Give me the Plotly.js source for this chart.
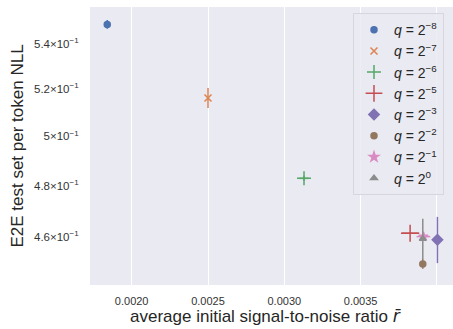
<!DOCTYPE html>
<html>
<head>
<meta charset="utf-8">
<script src="https://cdn.plot.ly/plotly-3.0.1.min.js"></script>
<style>html,body{margin:0;padding:0;background:#fff;}#chart{width:453px;height:329px;}</style>
</head>
<body>
<div id="chart"></div>
<script>
const names = ["q = 2^-8","q = 2^-7","q = 2^-6","q = 2^-5","q = 2^-3","q = 2^-2","q = 2^-1","q = 2^0"];
const legendLabels = ["<i>q</i> = 2<sup>−8</sup>","<i>q</i> = 2<sup>−7</sup>","<i>q</i> = 2<sup>−6</sup>","<i>q</i> = 2<sup>−5</sup>","<i>q</i> = 2<sup>−3</sup>","<i>q</i> = 2<sup>−2</sup>","<i>q</i> = 2<sup>−1</sup>","<i>q</i> = 2<sup>0</sup>"];
const snr = [0.00184, 0.00250, 0.003129, 0.003824, 0.004003, 0.003907, 0.003911, 0.003907];
const snrErr = [0.00001, 0.000005, 0.00003, 0.00006, 0.000005, 0.000005, 0.000045, 0.000005];
const nll = [0.5487, 0.5162, 0.4829, 0.4614, 0.4589, 0.4498, 0.4601, 0.4593];
const nllErr = [0.0020, 0.0043, 0.0010, 0.0003, 0.0088, 0.0018, 0.0004, 0.0077];
const colors = ["#4C72B0","#DD8452","#55A868","#C44E52","#8172B3","#937860","#DA8BC3","#8C8C8C"];
const symbols = ["circle","x-thin-open","cross-thin-open","cross-thin-open","diamond","circle","star","triangle-up"];
const sizes = [6,7,10,12,8,6,7,6];

const yTickVals = [0.46, 0.48, 0.50, 0.52, 0.54];
const yTickText = ["4.6×10<sup>−1</sup>","4.8×10<sup>−1</sup>","5×10<sup>−1</sup>","5.2×10<sup>−1</sup>","5.4×10<sup>−1</sup>"];
const xTickVals = [0.0020, 0.0025, 0.0030, 0.0035, 0.0040];
const xTickText = ["0.0020","0.0025","0.0030","0.0035","0.0040"];

const traces = names.map((n, i) => ({
  type: 'scatter', mode: 'markers', name: legendLabels[i],
  x: [snr[i]], y: [nll[i]],
  error_x: {type:'data', array:[snrErr[i]], color: colors[i], thickness: 1.5, width: 0},
  error_y: {type:'data', array:[nllErr[i]], color: colors[i], thickness: 1.5, width: 0},
  marker: {color: colors[i], symbol: symbols[i], size: sizes[i], line: {color: colors[i], width: 1.5}}
}));

const font = "Liberation Sans, Arial, sans-serif";
const layout = {
  width: 453, height: 329,
  margin: {l: 90, r: 0, t: 7, b: 44},
  paper_bgcolor: '#ffffff', plot_bgcolor: '#EAEAF2',
  font: {family: font, color: '#262626'},
  showlegend: true,
  legend: {x: 0.7245, y: 0.978, xanchor: 'left', yanchor: 'top',
    bgcolor: 'rgba(234,234,242,0.85)', bordercolor: '#d6d6dc', borderwidth: 1,
    itemwidth: 30, tracegroupgap: 0,
    font: {family: font, size: 14, color: '#262626'}},
  xaxis: {range: [0.001727, 0.004105], tickvals: xTickVals, ticktext: xTickText,
    showgrid: true, gridcolor: '#ffffff', gridwidth: 1, zeroline: false, showline: false,
    ticks: 'outside', ticklen: 6, tickcolor: 'rgba(0,0,0,0)',
    tickfont: {size: 11, color: '#333'}},
  yaxis: {type: 'log', range: [Math.log10(0.442), Math.log10(0.5567)], tickvals: yTickVals, ticktext: yTickText,
    showgrid: false, zeroline: false, showline: false,
    ticks: 'outside', ticklen: 8, tickcolor: 'rgba(0,0,0,0)',
    tickfont: {size: 11.5, color: '#333'},
    title: {text: 'E2E test set per token NLL', font: {size: 17, color: '#262626'}, standoff: 6}},
  annotations: [{text: 'average initial signal-to-noise ratio <span style="font-family:DejaVu Sans"><i>r̄</i></span>', xref: 'paper', yref: 'paper',
    x: 0.4835, y: -0.11, xanchor: 'center', yanchor: 'middle', showarrow: false,
    font: {family: font, size: 17, color: '#262626'}}]
};
Plotly.newPlot('chart', traces, layout, {displayModeBar: false, staticPlot: true});
</script>
</body>
</html>
